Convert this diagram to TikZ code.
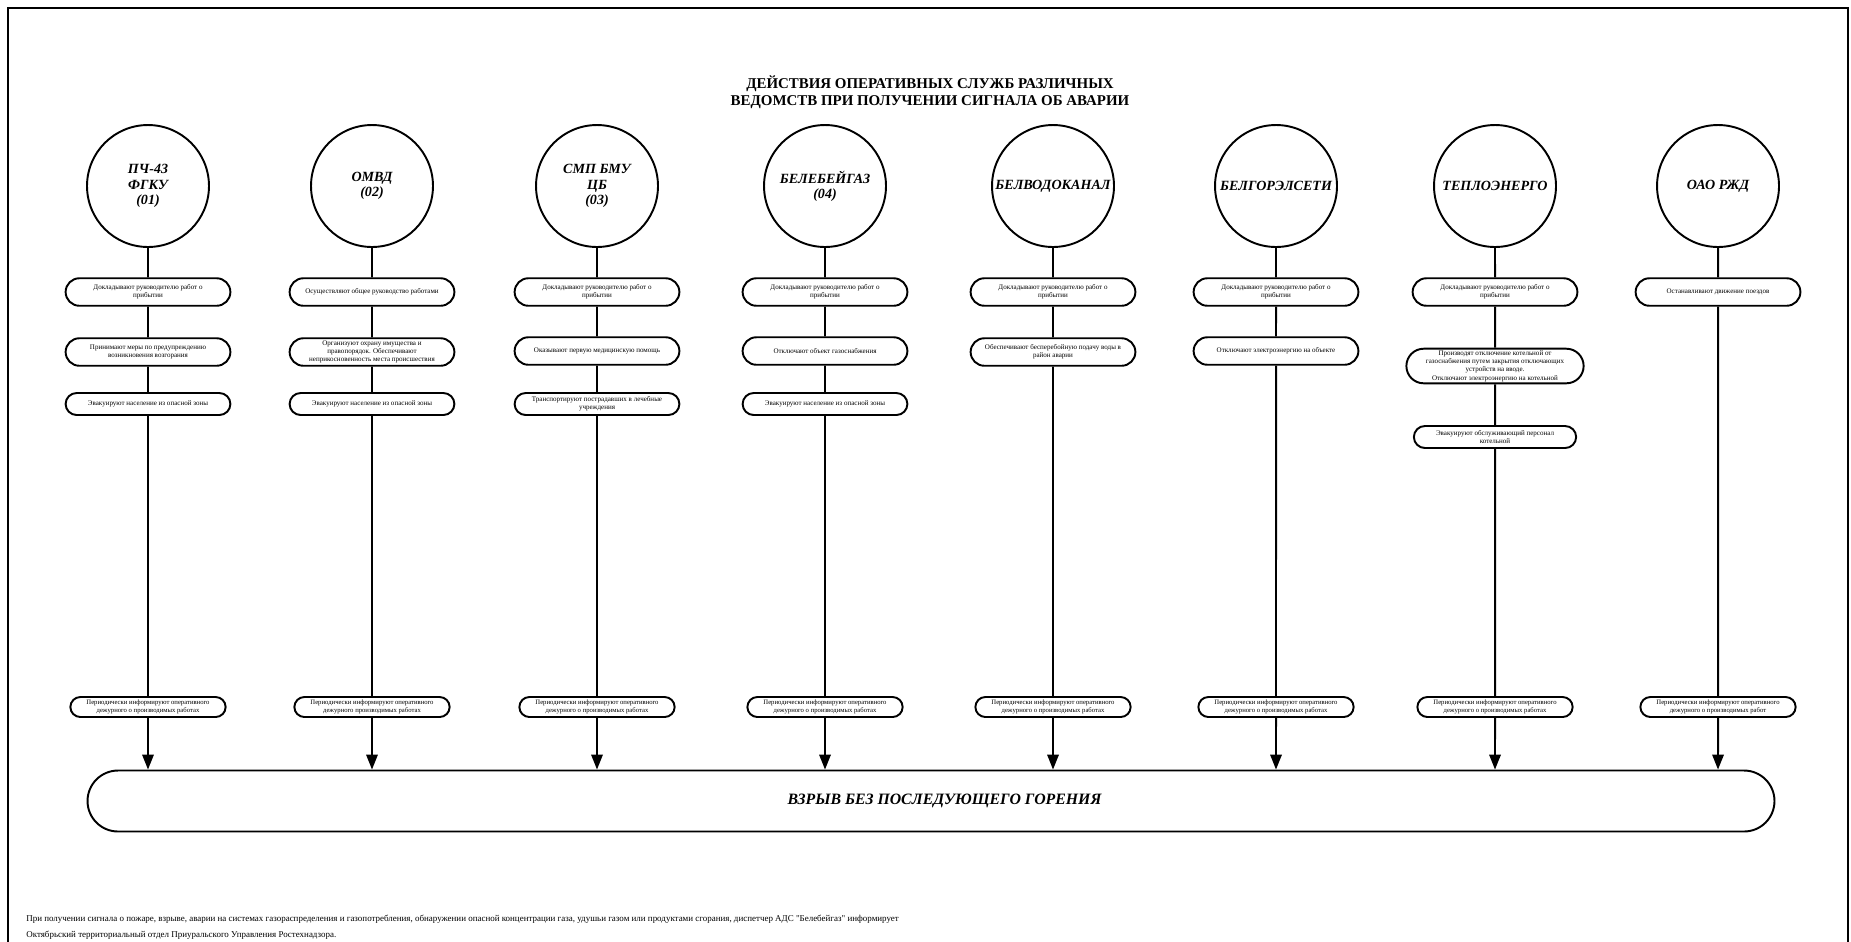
\documentclass[tikz,border=0pt]{standalone}
\usepackage{fontspec}
\setmainfont{Liberation Serif}[Ligatures=TeXOff]
\usetikzlibrary{shapes.misc,arrows.meta,positioning}

\begin{document}
\begin{tikzpicture}[
    x=0.02cm, y=-0.02cm,
    org/.style={circle, draw, line width=1.1pt, minimum size=2.44cm, inner sep=0pt, align=center,
        font=\fontsize{8}{8.7}\selectfont\bfseries\itshape},
    act/.style={rounded rectangle, draw, line width=1.1pt, minimum width=3.53cm, minimum height=0.55cm,
        inner ysep=1pt, align=center, font=\fontsize{4}{4.7}\selectfont},
    actsmall/.style={act, minimum height=0.44cm},
    report/.style={act, minimum width=3.34cm, minimum height=0.4cm, inner ysep=0.5pt,
        font=\fontsize{3.8}{4.4}\selectfont},
    line/.style={line width=1.1pt},
    arrow/.style={line, -{Triangle[length=8.5pt, width=6.5pt]}}
]
\useasboundingbox (0,0) rectangle (1851,941);
\draw[line width=0.8pt] (8,8) rectangle (1848,960);

% Title
\node[align=center, font=\fontsize{8.5}{9.4}\selectfont\bfseries] (title) at (930,92)
    {ДЕЙСТВИЯ ОПЕРАТИВНЫХ СЛУЖБ РАЗЛИЧНЫХ\\ВЕДОМСТВ ПРИ ПОЛУЧЕНИИ СИГНАЛА ОБ АВАРИИ};

% Services
\node[org] (pch) at (148,186) {ПЧ-43\\ФГКУ\\(01)};
\node[org] (omvd) at (372,186) {ОМВД\\(02)};
\node[org] (smp) at (597,186) {СМП БМУ\\ЦБ\\(03)};
\node[org] (gaz) at (825,186) {БЕЛЕБЕЙГАЗ\\(04)};
\node[org] (vodo) at (1053,186) {БЕЛВОДОКАНАЛ};
\node[org] (elset) at (1276,186) {БЕЛГОРЭЛСЕТИ};
\node[org] (teplo) at (1495,186) {ТЕПЛОЭНЕРГО};
\node[org] (rzd) at (1718,186) {ОАО РЖД};

% First actions
\node[act] (pch_a) at (148,292) {Докладывают руководителю работ о\\прибытии};
\node[act] (omvd_a) at (372,292) {Осуществляют общее руководство работами};
\node[act] (smp_a) at (597,292) {Докладывают руководителю работ о\\прибытии};
\node[act] (gaz_a) at (825,292) {Докладывают руководителю работ о\\прибытии};
\node[act] (vodo_a) at (1053,292) {Докладывают руководителю работ о\\прибытии};
\node[act] (elset_a) at (1276,292) {Докладывают руководителю работ о\\прибытии};
\node[act] (teplo_a) at (1495,292) {Докладывают руководителю работ о\\прибытии};
\node[act] (rzd_a) at (1718,292) {Останавливают движение поездов};

% Second actions
\node[act] (pch_b) at (148,352) {Принимают меры по предупреждению\\возникновения возгорания};
\node[act, inner ysep=0pt] (omvd_b) at (372,352) {Организуют охрану имущества и\\правопорядок. Обеспечивают\\неприкосновенность места происшествия};
\node[act] (smp_b) at (597,351) {Оказывают первую медицинскую помощь};
\node[act] (gaz_b) at (825,351) {Отключают объект газоснабжения};
\node[act] (vodo_b) at (1053,352) {Обеспечивают бесперебойную подачу воды в\\район аварии};
\node[act] (elset_b) at (1276,351) {Отключают электроэнергию на объекте};
\node[act, minimum width=3.78cm] (teplo_b) at (1495,366) {Производят отключение котельной от\\газоснабжения путем закрытия отключающих\\устройств на вводе.\\Отключают электроэнергию на котельной};

% Third actions
\node[actsmall] (pch_c) at (148,404) {Эвакуируют население из опасной зоны};
\node[actsmall] (omvd_c) at (372,404) {Эвакуируют население из опасной зоны};
\node[actsmall, inner ysep=0pt] (smp_c) at (597,404) {Транспортируют пострадавших в лечебные\\учреждения};
\node[actsmall] (gaz_c) at (825,404) {Эвакуируют население из опасной зоны};
\node[actsmall, minimum width=3.48cm] (teplo_c) at (1495,437) {Эвакуируют обслуживающий персонал\\котельной};

% Reports
\node[report] (pch_rep) at (148,707) {Периодически информируют оперативного\\дежурного о производимых работах};
\node[report] (omvd_rep) at (372,707) {Периодически информируют оперативного\\дежурного производимых работах};
\node[report] (smp_rep) at (597,707) {Периодически информируют оперативного\\дежурного о производимых работах};
\node[report] (gaz_rep) at (825,707) {Периодически информируют оперативного\\дежурного о производимых работах};
\node[report] (vodo_rep) at (1053,707) {Периодически информируют оперативного\\дежурного о производимых работах};
\node[report] (elset_rep) at (1276,707) {Периодически информируют оперативного\\дежурного о производимых работах};
\node[report] (teplo_rep) at (1495,707) {Периодически информируют оперативного\\дежурного о производимых работах};
\node[report] (rzd_rep) at (1718,707) {Периодически информируют оперативного\\дежурного о производимых работ};

% Event
\node[rounded rectangle, draw, line width=1.1pt, minimum width=33.98cm, minimum height=1.22cm,
    font=\fontsize{9}{9.4}\selectfont\bfseries\itshape] (blast) at (931,801)
    {\hspace*{0.54cm}ВЗРЫВ БЕЗ ПОСЛЕДУЮЩЕГО ГОРЕНИЯ};

% Vertical lines
\draw[line] (pch) -- (pch_a) -- (pch_b) -- (pch_c) -- (pch_rep);
\draw[line] (omvd) -- (omvd_a) -- (omvd_b) -- (omvd_c) -- (omvd_rep);
\draw[line] (smp) -- (smp_a) -- (smp_b) -- (smp_c) -- (smp_rep);
\draw[line] (gaz) -- (gaz_a) -- (gaz_b) -- (gaz_c) -- (gaz_rep);
\draw[line] (vodo) -- (vodo_a) -- (vodo_b) -- (vodo_rep);
\draw[line] (elset) -- (elset_a) -- (elset_b) -- (elset_rep);
\draw[line] (teplo) -- (teplo_a) -- (teplo_b) -- (teplo_c) -- (teplo_rep);
\draw[line] (rzd) -- (rzd_a) -- (rzd_rep);

% Arrows to the event
\draw[arrow] (pch_rep) -- (pch_rep |- blast.north);
\draw[arrow] (omvd_rep) -- (omvd_rep |- blast.north);
\draw[arrow] (smp_rep) -- (smp_rep |- blast.north);
\draw[arrow] (gaz_rep) -- (gaz_rep |- blast.north);
\draw[arrow] (vodo_rep) -- (vodo_rep |- blast.north);
\draw[arrow] (elset_rep) -- (elset_rep |- blast.north);
\draw[arrow] (teplo_rep) -- (teplo_rep |- blast.north);
\draw[arrow] (rzd_rep) -- (rzd_rep |- blast.north);

% Note
\node[anchor=west, align=left, inner sep=0pt, font=\fontsize{5.1}{9}\selectfont] (note) at (26,927)
    {При получении сигнала о пожаре, взрыве, аварии на системах газораспределения и газопотребления, обнаружении опасной концентрации газа, удушьи газом или продуктами сгорания, диспетчер АДС "Белебейгаз" информирует\\
     Октябрьский территориальный отдел Приуральского Управления Ростехнадзора.};
\end{tikzpicture}
\end{document}
